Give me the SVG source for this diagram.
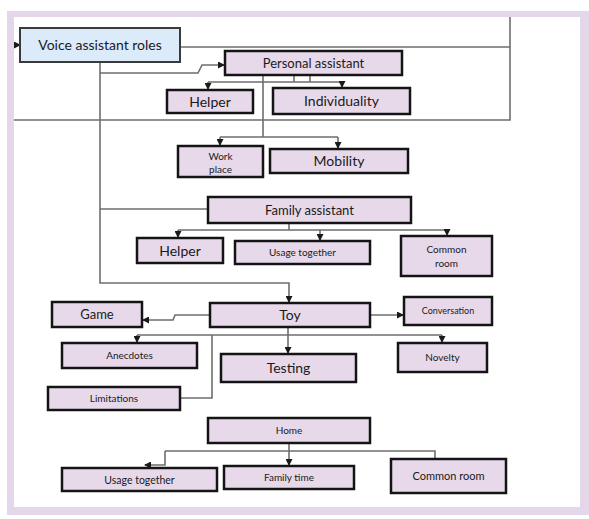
<svg xmlns="http://www.w3.org/2000/svg" width="589" height="519" viewBox="0 0 589 519">
<style>
.frame{fill:#e4d7e9}
.inner{fill:#ffffff}
.box{fill:#e7d9ea;stroke:#141414;stroke-width:2.5}
.root{fill:#dcebfa;stroke:#3a3a3a;stroke-width:2}
.ln{fill:none;stroke:#6e6e6e;stroke-width:1.6}
.arr{marker-end:url(#ah)}
text{font-family:Lato,"Open Sans","DejaVu Sans",sans-serif;fill:#1a1a1a;text-anchor:middle}
</style>
<defs>
<marker id="ah" markerWidth="7" markerHeight="7" refX="6" refY="3.5" orient="auto" markerUnits="userSpaceOnUse">
<path d="M0,0 L7,3.5 L0,7 z" fill="#1a1a1a"/>
</marker>
</defs>
<rect class="frame" x="7" y="11" width="582" height="504"/>
<rect class="inner" x="14" y="17" width="566" height="490"/>
<g id="connectors">
<path class="ln arr" d="M14,45 H20"/>
<path class="ln" d="M180,47 H510"/>
<path class="ln" d="M510,17 V120 H14"/>
<path class="ln arr" d="M100,62 V283 H289 V302"/>
<path class="ln" d="M100,209 H208"/>
<path class="ln arr" d="M100,73 H198 L202,65 H224"/>
<path class="ln" d="M294,75 V82 M310,75 V82 M208,82 H342"/>
<path class="ln arr" d="M208,82 V89"/>
<path class="ln arr" d="M342,82 V87"/>
<path class="ln" d="M263,75 V137 M220,137 H338"/>
<path class="ln arr" d="M220,137 V145"/>
<path class="ln arr" d="M338,137 V148"/>
<path class="ln" d="M289,223 V230 M178,230 H447"/>
<path class="ln arr" d="M178,230 V237"/>
<path class="ln arr" d="M320,230 V240"/>
<path class="ln arr" d="M447,230 V235"/>
<path class="ln arr" d="M210,315 H175 L173,320 H143"/>
<path class="ln arr" d="M370,315 H403"/>
<path class="ln arr" d="M288,327 V353"/>
<path class="ln" d="M137,335 H442"/>
<path class="ln arr" d="M137,335 V342"/>
<path class="ln arr" d="M442,335 V342"/>
<path class="ln" d="M180,398 H212 V335"/>
<path class="ln arr" d="M289,443 V465"/>
<path class="ln" d="M165,451 H435 V459"/>
<path class="ln arr" d="M165,451 V465 H145"/>
</g>
<g id="voice-assistant-roles"><rect class="root" x="20" y="28" width="160" height="34"/><text x="100" y="50" font-size="14">Voice assistant roles</text></g>
<g id="personal-assistant"><rect class="box" x="225" y="51" width="177" height="24"/><text x="313.5" y="67.5" font-size="13">Personal assistant</text></g>
<g id="helper-1"><rect class="box" x="167" y="90" width="86" height="23"/><text x="210" y="106.5" font-size="14">Helper</text></g>
<g id="individuality"><rect class="box" x="273" y="88" width="137" height="26"/><text x="341.5" y="106" font-size="14">Individuality</text></g>
<g id="work-place"><rect class="box" x="178" y="146" width="85" height="31"/><text x="220.5" y="160" font-size="10">Work</text><text x="220.5" y="173" font-size="10">place</text></g>
<g id="mobility"><rect class="box" x="270" y="149" width="138" height="24"/><text x="339" y="166" font-size="14">Mobility</text></g>
<g id="family-assistant"><rect class="box" x="208" y="197" width="203" height="26"/><text x="309.5" y="214.5" font-size="13">Family assistant</text></g>
<g id="helper-2"><rect class="box" x="137" y="238" width="86" height="25"/><text x="180" y="255.5" font-size="14">Helper</text></g>
<g id="usage-together-1"><rect class="box" x="235" y="241" width="135" height="23"/><text x="302.5" y="256" font-size="10">Usage together</text></g>
<g id="common-room-1"><rect class="box" x="401" y="236" width="91" height="40"/><text x="446.5" y="252.5" font-size="10">Common</text><text x="446.5" y="267" font-size="10">room</text></g>
<g id="game"><rect class="box" x="52" y="302" width="90" height="25"/><text x="97" y="319" font-size="13">Game</text></g>
<g id="toy"><rect class="box" x="210" y="303" width="160" height="24"/><text x="290" y="320" font-size="14">Toy</text></g>
<g id="conversation"><rect class="box" x="404" y="297" width="88" height="28"/><text x="448" y="314" font-size="9">Conversation</text></g>
<g id="anecdotes"><rect class="box" x="62" y="343" width="135" height="25"/><text x="129.5" y="359" font-size="10">Anecdotes</text></g>
<g id="testing"><rect class="box" x="221" y="354" width="135" height="28"/><text x="288.5" y="373" font-size="14">Testing</text></g>
<g id="novelty"><rect class="box" x="398" y="343" width="89" height="29"/><text x="442.5" y="361" font-size="10">Novelty</text></g>
<g id="limitations"><rect class="box" x="48" y="387" width="132" height="23"/><text x="114" y="402" font-size="10">Limitations</text></g>
<g id="home"><rect class="box" x="208" y="418" width="162" height="25"/><text x="289" y="434" font-size="10">Home</text></g>
<g id="usage-together-2"><rect class="box" x="62" y="468" width="155" height="23"/><text x="139.5" y="483.5" font-size="10.5">Usage together</text></g>
<g id="family-time"><rect class="box" x="224" y="466" width="130" height="23"/><text x="289" y="481" font-size="10">Family time</text></g>
<g id="common-room-2"><rect class="box" x="391" y="459" width="115" height="34"/><text x="448.5" y="480" font-size="11">Common room</text></g>
</svg>
